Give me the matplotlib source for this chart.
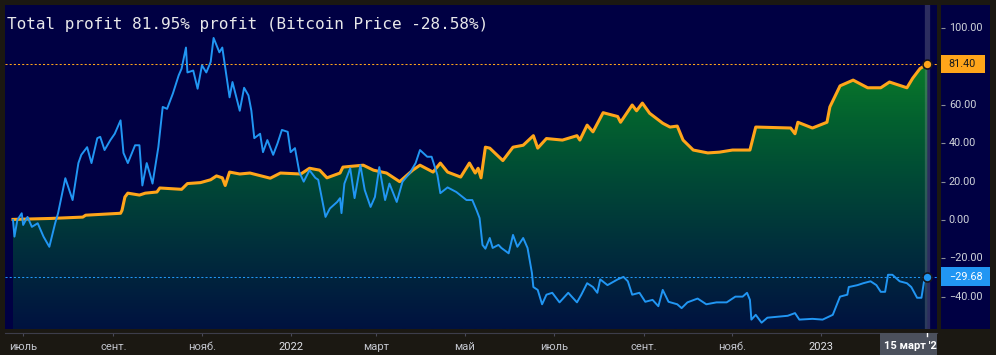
import matplotlib
matplotlib.use("Agg")
import matplotlib.pyplot as plt
import matplotlib.dates as mdates
from matplotlib.patches import Rectangle
from matplotlib.colors import LinearSegmentedColormap
import numpy as np
import pandas as pd

BG = "#1b1812"; NAVY = "#000043"; ORANGE = "#ffa51a"; BLUE = "#2196f3"
TXT = "#c3c6ce"; AXLINE = "#3d3d4a"; CROSS = "#9598a1"

TITLE = "Total profit 81.95% profit (Bitcoin Price -28.58%)"
START = pd.Timestamp("2021-06-24")

# прибыль стратегии, %: день от START и значение
PROFIT_DAY = [0, 26, 48, 50, 74, 75, 77, 79, 87, 91,
              99, 101, 116, 120, 129, 136, 140, 144, 146, 149,
              156, 163, 177, 184, 198, 204, 211, 216, 225, 227,
              241, 248, 257, 266, 275, 280, 289, 294, 299, 308,
              314, 318, 320, 322, 325, 328, 337, 344, 351, 358,
              361, 367, 378, 388, 390, 395, 399, 406, 416, 418,
              426, 429, 433, 438, 447, 452, 457, 461, 468, 478,
              486, 495, 507, 511, 535, 538, 540, 550, 560, 562,
              569, 578, 588, 597, 603, 615, 619, 624, 629]
PROFIT = [0.3, 0.8, 1.5, 2.5, 3.5, 5, 12, 14, 13, 14,
          14.6, 16.7, 16, 19, 19.5, 21, 23, 22, 18, 25,
          24, 24.5, 21.8, 24.5, 24, 27, 26, 22, 24.5, 27.6,
          28.6, 26, 24.5, 20, 26, 28.6, 25, 29.7, 25, 22.4,
          29.7, 24.5, 27, 22, 38, 37.5, 31, 38, 39, 44,
          37.5, 42.5, 41.7, 44, 41.7, 49.5, 46, 56, 54, 51,
          60, 57, 61, 55.7, 50.5, 48.5, 49, 41.7, 36.5, 35,
          35.4, 36.5, 36.5, 48.5, 48, 45, 51, 48, 51, 59,
          70, 73, 69, 69, 72, 69, 74, 79, 81.40]

# цена биткоина, % от начала периода
BTC_DAY = [0, 1, 3, 6, 7, 10, 13, 17, 21, 25,
           29, 31, 34, 36, 41, 45, 47, 51, 54, 58,
           60, 63, 67, 70, 74, 76, 79, 84, 87, 89,
           92, 94, 96, 100, 103, 106, 110, 114, 116, 119,
           120, 124, 127, 130, 133, 136, 138, 142, 144, 147,
           149, 151, 156, 159, 162, 164, 166, 170, 172, 175,
           179, 182, 185, 189, 191, 194, 197, 200, 204, 208,
           210, 215, 218, 223, 225, 226, 228, 232, 235, 239,
           242, 246, 249, 252, 256, 259, 264, 268, 273, 277,
           280, 285, 288, 292, 294, 299, 305, 312, 316, 319,
           321, 323, 325, 328, 330, 334, 336, 341, 344, 347,
           351, 354, 357, 358, 361, 364, 367, 371, 376, 382,
           388, 391, 395, 399, 402, 404, 409, 416, 420, 423,
           426, 431, 435, 440, 444, 447, 451, 457, 460, 464,
           471, 477, 484, 491, 497, 502, 505, 507, 508, 511,
           515, 519, 526, 533, 538, 541, 550, 557, 564, 569,
           574, 575, 581, 585, 590, 594, 597, 600, 602, 605,
           610, 615, 618, 622, 625, 627, 629]
BTC = [0, -8.7, 0, 3.5, -2.6, 1.6, -3.6, -1.7, -8.7, -14,
       -1.7, 3.5, 14.6, 21.8, 10.4, 29.7, 34, 38, 29.7, 42.7,
       43.4, 36.5, 41.7, 45, 52, 35, 29.7, 39, 39, 18,
       29.7, 24.5, 19, 38, 59, 58, 66, 75.5, 79, 90,
       77, 78, 68.5, 80.7, 77, 82.5, 95, 87.5, 90, 74.5,
       64, 72, 57, 69, 65, 57, 42.7, 45, 35.4, 41.7,
       34, 40, 47, 46, 35.4, 37.5, 25, 20, 26, 22,
       21, 1.6, 6, 9.4, 11.4, 3.6, 19, 27, 11.4, 28.6,
       15.6, 6.8, 12, 27.6, 10.4, 19, 9.4, 20, 24.5, 29.7,
       36.5, 33, 33, 23.4, 14, 17, 14.6, 10.4, 10.4, 5,
       1, -13, -15, -9.4, -14.6, -13, -14.6, -17.4, -7.8, -14,
       -9.4, -14.6, -27.6, -35, -36.5, -44, -39, -38, -43, -38,
       -43, -39, -33, -35, -38, -31, -34, -31, -29.7, -32,
       -39, -38, -42.7, -41.7, -45, -36.5, -42.7, -44, -46, -43,
       -41, -44, -43, -43, -40, -40, -38, -41.7, -52, -49.5,
       -53.6, -51, -50.5, -50, -48.6, -52, -51.6, -52, -49.5, -40,
       -39, -35, -34, -33, -32, -34, -37.5, -37.5, -28.6, -28.6,
       -32, -33, -35, -40.6, -40.6, -31, -29.68]

X_TICKS = ["2021-07-01", "2021-09-01", "2021-11-01", "2022-01-01", "2022-03-01",
           "2022-05-01", "2022-07-01", "2022-09-01", "2022-11-01", "2023-01-01"]
X_LABELS = ["июль", "сент.", "нояб.", "2022", "март",
            "май", "июль", "сент.", "нояб.", "2023"]
Y_TICKS = [100, 60, 40, 20, 0, -20, -40]   # 80.00 закрыта плашкой последнего значения
CURSOR_LABEL = "15 март '23"

W, H = 996, 355
fig = plt.figure(figsize=(W / 100, H / 100), dpi=100)
fig.patch.set_facecolor(BG)

ax = fig.add_axes([5 / W, 26 / H, 932 / W, 324 / H])
ax.set_facecolor(NAVY)

t0 = mdates.date2num(START)
px = t0 + np.array(PROFIT_DAY, dtype=float)
bx = t0 + np.array(BTC_DAY, dtype=float)
X0, X1 = t0 - 5.5, t0 + 635.7
Y0, Y1 = -56.9, 112.2

# заливка под прибылью: градиент зелёный -> тёмно-синий, обрезанный по кривой
cmap = LinearSegmentedColormap.from_list("pf", [
    (0.0, "#001240"), (0.3, "#002e3c"), (0.55, "#004736"),
    (0.8, "#03622f"), (1.0, "#0a7a2a")])
area = ax.fill_between(px, PROFIT, Y0, facecolor="none", edgecolor="none")
grad = np.linspace(0, 1, 256).reshape(-1, 1)
im = ax.imshow(grad, extent=[px[0], px[-1], Y0, max(PROFIT)], origin="lower",
               aspect="auto", cmap=cmap, zorder=1, interpolation="bilinear")
im.set_clip_path(area.get_paths()[0], transform=ax.transData)

ax.axhline(PROFIT[-1], color=ORANGE, lw=0.75, ls=(0, (2, 2)), zorder=2)
ax.axhline(BTC[-1], color=BLUE, lw=0.75, ls=(0, (2, 2)), zorder=2)

ax.plot(px, PROFIT, color=ORANGE, lw=2.2, zorder=3, solid_joinstyle="round")
ax.plot(bx, BTC, color=BLUE, lw=1.4, zorder=4, solid_joinstyle="round")

ax.axvline(px[-1], color=CROSS, alpha=0.3, lw=3.8, zorder=5)
ax.plot(px[-1], PROFIT[-1], "o", ms=6.5, color=ORANGE, mec="#15151c", mew=1.2, zorder=6)
ax.plot(bx[-1], BTC[-1], "o", ms=6.5, color=BLUE, mec="#15151c", mew=1.2, zorder=6)

ax.set_xlim(X0, X1)
ax.set_ylim(Y0, Y1)
for name, s in ax.spines.items():
    s.set_visible(name == "bottom")
ax.spines["bottom"].set_position(("outward", 3))
ax.spines["bottom"].set_color(AXLINE)
ax.set_yticks([])
ax.set_xticks(mdates.date2num(pd.to_datetime(X_TICKS)))
ax.set_xticklabels(X_LABELS, family=["Roboto", "DejaVu Sans"], fontsize=8, color=TXT)
for lab in ax.get_xticklabels():
    if lab.get_text().isdigit():
        lab.set_color("#dfe1e6")
ax.tick_params(axis="x", length=2.5, color="#4a4a58", pad=4)

ax.text(7 / W, 1 - 29.5 / H, TITLE, transform=fig.transFigure, family="DejaVu Sans Mono",
        fontsize=11.5, color="#e8e8ea", va="baseline", ha="left")

# правая шкала
axr = fig.add_axes([941 / W, 26 / H, 49 / W, 324 / H])
axr.set_facecolor(NAVY)
axr.set_ylim(Y0, Y1)
axr.set_xlim(0, 1)
axr.set_xticks([])
for s in axr.spines.values():
    s.set_visible(False)
axr.set_yticks(Y_TICKS)
axr.tick_params(axis="y", direction="in", length=3, color="#8a8d96", labelleft=False)
for v in Y_TICKS:
    axr.text(0.16, v, f"{v:.2f}".replace("-", "\u2212"), color="#d0d3da", fontsize=7.8,
             family=["Roboto", "DejaVu Sans"], va="center", ha="left")

for val, col, tcol, wbox in ((PROFIT[-1], ORANGE, "#1a1a1a", 0.9), (BTC[-1], BLUE, "#ffffff", 1.0)):
    axr.add_patch(Rectangle((0, val - 4.95), wbox, 9.9, facecolor=col, edgecolor="none",
                            zorder=5, clip_on=False))
    axr.text(0.16, val, f"{val:.2f}".replace("-", "\u2212"), color=tcol, fontsize=7.8,
             family=["Roboto", "DejaVu Sans"], va="center", ha="left", zorder=6)

# подпись даты курсора, обрезанная краем графика
axb = fig.add_axes([880 / W, 0, 57 / W, 22 / H])
axb.set_facecolor("#4b505c")
bx0 = X0 + (880 - 5) / 932 * (X1 - X0)
axb.set_xlim(bx0, X1)
axb.set_ylim(0, 1)
axb.set_xticks([]); axb.set_yticks([])
for s in axb.spines.values():
    s.set_visible(False)
axb.axvline(px[-1], ymin=0.86, ymax=1.0, color="white", lw=1)
axb.text(0.07, 0.42, CURSOR_LABEL, transform=axb.transAxes, color="white", fontsize=8,
         family=["Roboto", "DejaVu Sans"], fontweight="bold", va="center", ha="left",
         clip_on=True)

fig.savefig("out.png", dpi=100, facecolor=BG)
